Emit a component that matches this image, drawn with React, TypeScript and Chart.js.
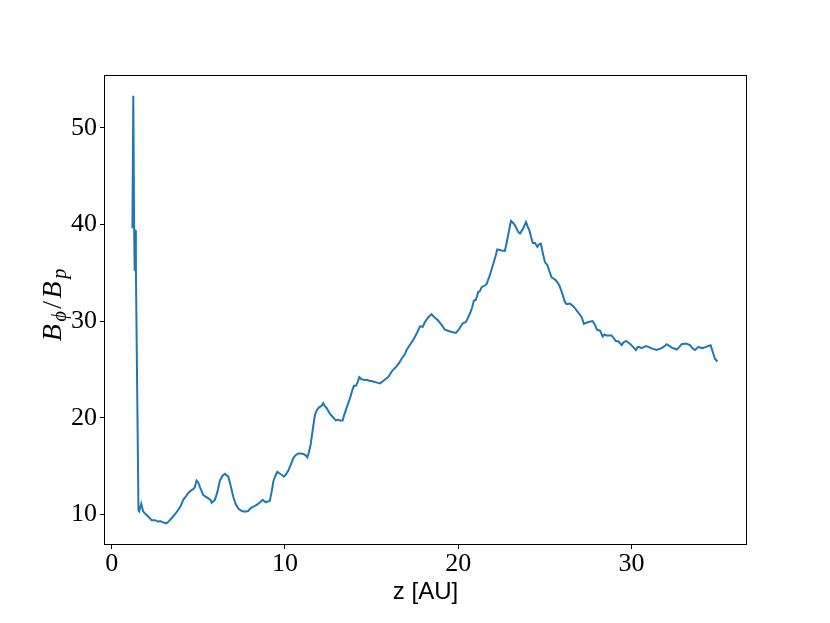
import React, { useEffect, useRef } from "react";
import { Chart, registerables } from "chart.js";

Chart.register(...registerables);

const zValues = [
  1.2, 1.25, 1.3, 1.33, 1.36, 1.4, 1.55, 1.59, 1.71, 1.82, 1.92, 2.1, 2.31, 2.5, 2.69, 2.79, 3.0, 3.17, 3.3, 3.46,
  3.65, 3.84, 4.0, 4.13, 4.3, 4.42, 4.6, 4.71, 4.8, 4.9, 5.0, 5.1, 5.29, 5.45, 5.58, 5.7, 5.77, 5.9, 5.96, 6.1,
  6.25, 6.4, 6.54, 6.73, 6.85, 7.02, 7.15, 7.31, 7.45, 7.6, 7.75, 7.88, 8.0, 8.17, 8.3, 8.46, 8.6, 8.71, 8.9, 9.13,
  9.25, 9.33, 9.45, 9.56, 9.71, 9.81, 9.94, 10.05, 10.19, 10.35, 10.48, 10.6, 10.77, 10.9, 11.06, 11.2, 11.29, 11.38,
  11.48, 11.6, 11.73, 11.85, 11.98, 12.1, 12.21, 12.3, 12.41, 12.5, 12.64, 12.8, 12.94, 13.05, 13.15, 13.33, 13.42,
  13.52, 13.65, 13.75, 13.88, 13.98, 14.1, 14.2, 14.29, 14.4, 14.48, 14.6, 14.75, 14.9, 15.0, 15.19, 15.35, 15.48,
  15.6, 15.77, 15.96, 16.1, 16.21, 16.44, 16.6, 16.73, 16.9, 17.02, 17.31, 17.45, 17.6, 17.79, 17.95, 18.08, 18.27,
  18.46, 18.62, 18.81, 19.04, 19.23, 19.4, 19.62, 19.87, 20.06, 20.25, 20.44, 20.55, 20.68, 20.8, 20.9, 21.02, 21.15,
  21.25, 21.35, 21.54, 21.63, 21.79, 21.9, 22.02, 22.15, 22.25, 22.4, 22.5, 22.69, 22.78, 22.89, 23.04, 23.17, 23.27,
  23.37, 23.47, 23.56, 23.65, 23.75, 23.91, 24.0, 24.1, 24.2, 24.3, 24.43, 24.56, 24.65, 24.77, 24.88, 25.0, 25.14,
  25.25, 25.39, 25.5, 25.64, 25.83, 25.95, 26.06, 26.15, 26.25, 26.44, 26.64, 26.87, 27.0, 27.12, 27.25, 27.5, 27.75,
  27.89, 28.0, 28.18, 28.33, 28.45, 28.56, 28.85, 29.1, 29.23, 29.43, 29.55, 29.68, 29.94, 30.1, 30.25, 30.35, 30.44,
  30.58, 30.83, 31.0, 31.15, 31.45, 31.74, 31.9, 32.03, 32.2, 32.32, 32.6, 32.75, 32.89, 33.14, 33.37, 33.5, 33.66,
  33.85, 34.1, 34.33, 34.56, 34.81, 34.95,
];

const ratioValues = [
  39.6, 53.3, 39.5, 35.2, 39.4, 35.5, 10.4, 10.3, 11.1, 10.3, 10.1, 9.8, 9.4, 9.4, 9.25, 9.3, 9.15, 9.07, 9.3, 9.6,
  10.0, 10.45, 10.9, 11.5, 11.9, 12.2, 12.5, 12.6, 12.8, 13.5, 13.3, 12.8, 12.0, 11.8, 11.65, 11.5, 11.2, 11.4, 11.5, 12.3,
  13.5, 14.0, 14.2, 13.9, 13.1, 11.8, 11.1, 10.6, 10.4, 10.3, 10.3, 10.35, 10.6, 10.8, 10.9, 11.1, 11.3, 11.5, 11.25, 11.4,
  12.5, 13.4, 14.0, 14.4, 14.2, 14.1, 13.9, 14.1, 14.5, 15.2, 15.8, 16.1, 16.3, 16.3, 16.25, 16.1, 15.9, 16.4,
  17.2, 18.7, 20.3, 20.8, 21.1, 21.2, 21.5, 21.2, 21.0, 20.7, 20.3, 20.0, 19.7, 19.8, 19.7, 19.7, 20.3,
  20.8, 21.5, 22.0, 22.8, 23.3, 23.3, 23.7, 24.2, 24.0, 23.95, 23.9, 23.9, 23.8, 23.8, 23.7, 23.6, 23.55,
  23.7, 23.95, 24.2, 24.6, 24.9, 25.3, 25.7, 26.1, 26.5, 27.0, 27.8, 28.2, 28.7, 29.45, 29.4, 29.9, 30.4,
  30.7, 30.4, 30.1, 29.6, 29.1, 29.0, 28.87, 28.77, 29.2, 29.75, 29.9, 30.3, 30.8, 31.4, 32.1, 32.2, 33.0,
  33.1, 33.5, 33.7, 33.8, 34.6, 35.2, 35.9, 36.7, 37.4, 37.35, 37.3, 37.25, 38.0, 39.0, 40.35, 40.15, 39.9,
  39.55, 39.2, 39.05, 39.3, 39.6, 40.25, 39.8, 39.4, 38.7, 38.07, 38.07, 37.66, 37.9, 38.0, 37.0, 36.1, 35.8,
  35.2, 34.5, 34.4, 34.2, 33.7, 33.1, 32.5, 32.0, 31.74, 31.8, 31.53, 31.0, 30.7, 30.4, 29.7, 29.9, 30.0,
  29.6, 29.1, 29.0, 28.4, 28.6, 28.5, 28.5, 27.9, 27.9, 27.5, 27.8, 27.94, 27.6, 27.3, 27.0, 27.3, 27.3,
  27.2, 27.4, 27.3, 27.17, 27.0, 27.2, 27.4, 27.6, 27.4, 27.25, 27.05, 27.3, 27.6, 27.67, 27.5, 27.2, 27.0,
  27.3, 27.2, 27.35, 27.5, 26.1, 25.8,
];

const xTickValues = [0, 10, 20, 30];
const yTickValues = [10, 20, 30, 40, 50];
const xAxisTitle = "z [AU]";
const yTitleParts = [
  { text: "B", sub: false },
  { text: "ϕ", sub: true },
  { text: "/", sub: false },
  { text: "B", sub: false },
  { text: "p", sub: true },
];

const mainFont = 'italic 28px "Liberation Serif", serif';
const slashFont = '28px "Liberation Serif", serif';
const subFont = 'italic 20px "Liberation Serif", serif';

const framePlugin = {
  id: "frameAndTitles",
  afterDraw(chart: any) {
    const { ctx, chartArea: a } = chart;
    ctx.save();
    ctx.strokeStyle = "#000";
    ctx.lineWidth = 1;
    const l = Math.round(a.left) + 0.5;
    const t = Math.round(a.top) + 0.5;
    const r = Math.round(a.right) - 0.5;
    const b = Math.round(a.bottom) - 0.5;
    ctx.strokeRect(l, t, r - l, b - t);

    // x title
    ctx.fillStyle = "#000";
    ctx.font = '24px "Liberation Sans", sans-serif';
    ctx.textAlign = "center";
    ctx.textBaseline = "middle";
    ctx.fillText(xAxisTitle, (a.left + a.right) / 2, 592);

    // y title (rotated)
    ctx.translate(61, 305);
    ctx.rotate(-Math.PI / 2);
    ctx.textAlign = "left";
    ctx.textBaseline = "alphabetic";
    const gap = 2.5;
    const fontOf = (p: any) => (p.text === "/" ? slashFont : p.sub ? subFont : mainFont);
    let total = 0;
    const widths = yTitleParts.map((p) => {
      ctx.font = fontOf(p);
      const w = ctx.measureText(p.text).width;
      total += w;
      return w;
    });
    total += gap * (yTitleParts.length - 1);
    let x = -total / 2;
    yTitleParts.forEach((p, i) => {
      ctx.font = fontOf(p);
      ctx.fillText(p.text, x, p.sub ? 5 : 0);
      x += widths[i] + gap;
    });
    ctx.restore();
  },
};

export default function App() {
  const canvasRef = useRef<HTMLCanvasElement | null>(null);

  useEffect(() => {
    document.body.style.margin = "0";
    const canvas = canvasRef.current;
    if (!canvas) return;
    const chart = new Chart(canvas, {
      type: "line",
      data: {
        datasets: [
          {
            data: zValues.map((z, i) => ({ x: z, y: ratioValues[i] })),
            borderColor: "#1f77b4",
            borderWidth: 2,
            pointRadius: 0,
            fill: false,
            tension: 0,
          },
        ],
      },
      options: {
        animation: false,
        responsive: true,
        maintainAspectRatio: false,
        layout: { padding: { top: 75, right: 83, left: 0, bottom: 0 } },
        plugins: { legend: { display: false }, tooltip: { enabled: false } },
        scales: {
          x: {
            type: "linear",
            min: -0.44,
            max: 36.66,
            afterFit: (s: any) => {
              s.height = 78;
            },
            afterBuildTicks: (s: any) => {
              s.ticks = xTickValues.map((v) => ({ value: v }));
            },
            grid: {
              display: true,
              drawOnChartArea: false,
              drawTicks: true,
              tickLength: 4,
              tickColor: "#000",
              tickWidth: 1,
            },
            border: { display: false },
            ticks: {
              color: "#000",
              padding: 0,
              maxRotation: 0,
              font: { family: '"Liberation Serif", serif', size: 26 },
            },
          },
          y: {
            type: "linear",
            min: 6.83,
            max: 55.45,
            afterFit: (s: any) => {
              s.width = 104;
            },
            afterBuildTicks: (s: any) => {
              s.ticks = yTickValues.map((v) => ({ value: v }));
            },
            grid: {
              display: true,
              drawOnChartArea: false,
              drawTicks: true,
              tickLength: 4,
              tickColor: "#000",
              tickWidth: 1,
            },
            border: { display: false },
            ticks: {
              color: "#000",
              padding: 3,
              font: { family: '"Liberation Serif", serif', size: 26 },
            },
          },
        },
      },
      plugins: [framePlugin],
    });
    return () => chart.destroy();
  }, []);

  return (
    <div style={{ position: "absolute", left: 0, top: 0, width: 830, height: 623 }}>
      <canvas ref={canvasRef} />
    </div>
  );
}
